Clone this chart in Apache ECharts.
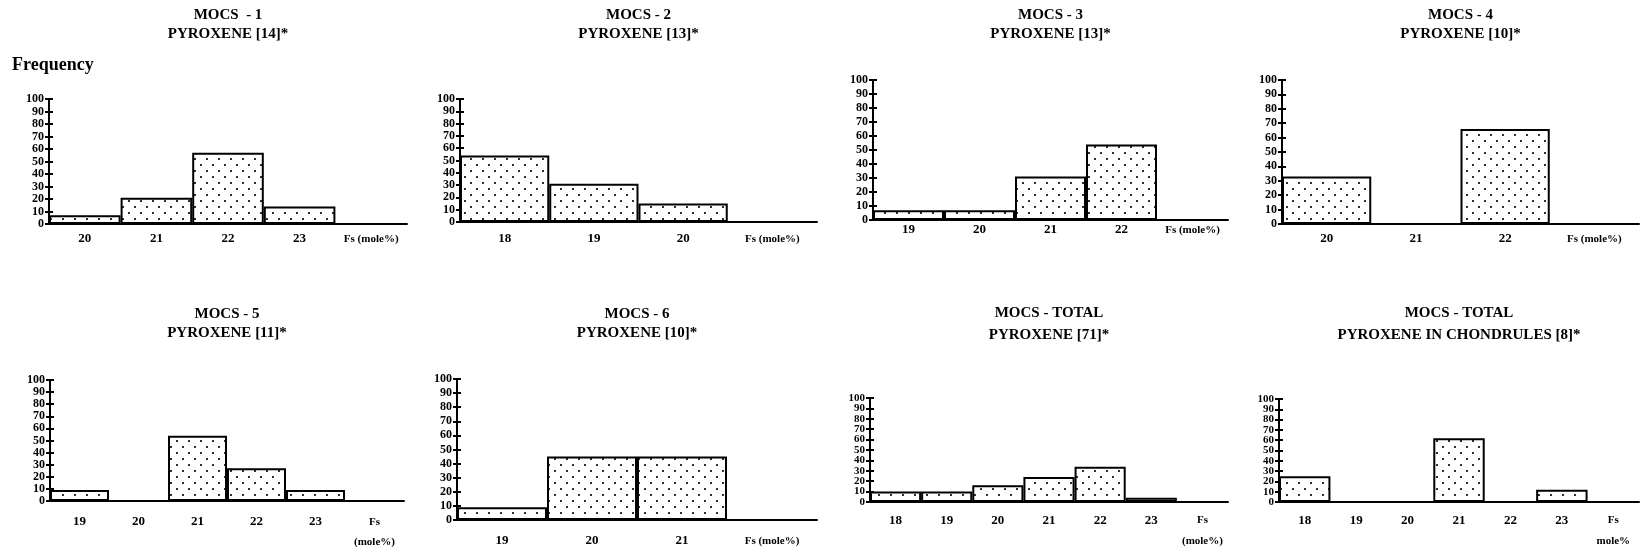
<!DOCTYPE html>
<html>
<head>
<meta charset="utf-8">
<title>MOCS pyroxene Fs histograms</title>
<script src="https://cdn.jsdelivr.net/npm/echarts@6/dist/echarts.min.js"></script>
<style>
  html, body { margin: 0; padding: 0; background: #fff; }
  #chart { width: 1643px; height: 552px; }
</style>
</head>
<body>
<div id="chart"></div>
<script>
/* Fs (mole%) bins and frequency (%) for each sample */
const fs1 = ['20', '21', '22', '23']
const freq1 = [7, 21, 57, 14]

const fs2 = ['18', '19', '20']
const freq2 = [54, 31, 15]

const fs3 = ['19', '20', '21', '22']
const freq3 = [7, 7, 31, 54]

const fs4 = ['20', '21', '22']
const freq4 = [33, 0, 66]

const fs5 = ['19', '20', '21', '22', '23']
const freq5 = [9, 0, 54, 27, 9]

const fs6 = ['19', '20', '21']
const freq6 = [9, 45, 45]

const fsTotal = ['18', '19', '20', '21', '22', '23']
const freqTotal = [10, 10, 16, 24, 34, 4]
const freqChondrules = [25, 0, 0, 62, 0, 12]

/* y axis: 0..100 step 10 */
const yMin = 0
const yMax = 100
const yStep = 10

const FONT = '"Liberation Serif", "DejaVu Serif", serif'

/* panel layout, in page pixels */
const panels = [
  { t: 'MOCS  - 1', s: 'PYROXENE [14]*', cats: fs1, vals: freq1, fsLabel: 'Fs (mole%)',
    x0: 49, x1: 407, yTop: 99, y0: 224, titleTop: 8, gap: 4, lm: 8, lh: 14, ySize: 12 },
  { t: 'MOCS - 2', s: 'PYROXENE [13]*', cats: fs2, vals: freq2, fsLabel: 'Fs (mole%)',
    x0: 460, x1: 817, yTop: 99, y0: 222, titleTop: 8, gap: 4, lm: 10, lh: 14, ySize: 12 },
  { t: 'MOCS - 3', s: 'PYROXENE [13]*', cats: fs3, vals: freq3, fsLabel: 'Fs (mole%)',
    x0: 873, x1: 1228, yTop: 80, y0: 220, titleTop: 8, gap: 4, lm: 3, lh: 14, ySize: 12 },
  { t: 'MOCS - 4', s: 'PYROXENE [10]*', cats: fs4, vals: freq4, fsLabel: 'Fs (mole%)',
    x0: 1282, x1: 1639, yTop: 80, y0: 224, titleTop: 8, gap: 4, lm: 8, lh: 14, ySize: 12 },
  { t: 'MOCS - 5', s: 'PYROXENE [11]*', cats: fs5, vals: freq5, fsLabel: 'Fs\n(mole%)',
    x0: 50, x1: 404, yTop: 380, y0: 501, titleTop: 307, gap: 4, lm: 11, lh: 20, ySize: 12 },
  { t: 'MOCS - 6', s: 'PYROXENE [10]*', cats: fs6, vals: freq6, fsLabel: 'Fs (mole%)',
    x0: 457, x1: 817, yTop: 379, y0: 520, titleTop: 307, gap: 4, lm: 14, lh: 14, ySize: 12 },
  { t: 'MOCS - TOTAL', s: 'PYROXENE [71]*', cats: fsTotal, vals: freqTotal, fsLabel: 'Fs\n(mole%)',
    x0: 870, x1: 1228, yTop: 398, y0: 503, titleTop: 306, gap: 7, lm: 8, lh: 21, ySize: 11 },
  { t: 'MOCS - TOTAL', s: 'PYROXENE IN CHONDRULES [8]*', cats: fsTotal, vals: freqChondrules, fsLabel: 'Fs\nmole%',
    x0: 1279, x1: 1639, yTop: 399, y0: 504, titleTop: 306, gap: 7, lm: 8, lh: 21, ySize: 11 }
]

/* stippled fill like the printed figure */
function makeDots() {
  const c = document.createElement('canvas')
  c.width = 12
  c.height = 12
  const ctx = c.getContext('2d')
  ctx.fillStyle = '#fff'
  ctx.fillRect(0, 0, 12, 12)
  ctx.fillStyle = '#000'
  ctx.beginPath()
  ctx.arc(3, 3, 1.1, 0, Math.PI * 2)
  ctx.arc(9, 9, 1.1, 0, Math.PI * 2)
  ctx.fill()
  return c
}
const dots = { image: makeDots(), repeat: 'repeat' }

const txt = (size, weight) => ({ color: '#000', fontFamily: FONT, fontSize: size, fontWeight: weight || 'bold' })

function buildOption() {
  const option = {
    animation: false,
    backgroundColor: '#fff',
    title: [
      { text: 'Frequency', left: 12, top: 56, padding: 0, textStyle: txt(18, 'bold') }
    ],
    grid: [],
    xAxis: [],
    yAxis: [],
    series: []
  }

  panels.forEach((p, i) => {
    const axisData = p.cats.concat([p.fsLabel])
    const last = axisData.length - 1

    option.title.push({
      text: p.t,
      subtext: p.s,
      left: (p.x0 + p.x1) / 2,
      top: p.titleTop,
      textAlign: 'center',
      padding: 0,
      itemGap: p.gap,
      textStyle: txt(15),
      subtextStyle: txt(15)
    })

    option.grid.push({ left: p.x0, top: p.yTop, width: p.x1 - p.x0, height: p.y0 - p.yTop })

    option.xAxis.push({
      type: 'category',
      gridIndex: i,
      position: 'bottom',
      data: axisData,
      axisLine: { lineStyle: { color: '#000', width: 2 } },
      axisTick: { length: 4, lineStyle: { color: '#000', width: 2 } },
      axisLabel: {
        interval: 0,
        margin: p.lm,
        lineHeight: p.lh,
        ...txt(13),
        formatter(v, idx) {
          if (idx !== last) return v
          return v.split('\n').map((s) => '{fs|' + s + '}').join('\n')
        },
        rich: { fs: { ...txt(11), lineHeight: p.lh } }
      },
      splitLine: { show: false }
    })
    // inward half of the crossing ticks
    option.xAxis.push({
      type: 'category',
      gridIndex: i,
      position: 'bottom',
      data: axisData,
      axisLine: { show: false },
      axisTick: { inside: true, length: 3, lineStyle: { color: '#000', width: 2 } },
      axisLabel: { show: false },
      splitLine: { show: false }
    })

    // labels split over two axes (even / odd tens) so crowded ones are not dropped
    option.yAxis.push({
      type: 'value',
      gridIndex: i,
      position: 'left',
      min: yMin,
      max: yMax,
      interval: yStep,
      axisLine: { show: true, lineStyle: { color: '#000', width: 2 } },
      axisTick: { show: true, length: 4, lineStyle: { color: '#000', width: 2 } },
      axisLabel: {
        margin: 5,
        showMinLabel: true,
        showMaxLabel: true,
        formatter: (v) => (v % 20 === 0 ? String(v) : ''),
        ...txt(p.ySize)
      },
      splitLine: { show: false }
    })
    option.yAxis.push({
      type: 'value',
      gridIndex: i,
      position: 'left',
      min: yMin,
      max: yMax,
      interval: yStep,
      axisLine: { show: false },
      axisTick: { show: true, inside: true, length: 4, lineStyle: { color: '#000', width: 2 } },
      axisLabel: {
        margin: 5,
        showMinLabel: true,
        showMaxLabel: true,
        formatter: (v) => (v % 20 === 10 ? String(v) : ''),
        ...txt(p.ySize)
      },
      splitLine: { show: false }
    })

    option.series.push({
      type: 'bar',
      xAxisIndex: i * 2,
      yAxisIndex: i * 2,
      data: p.vals,
      barCategoryGap: '0%',
      itemStyle: { color: dots, borderColor: '#000', borderWidth: 2 }
    })
  })

  return option
}

const chart = echarts.init(document.getElementById('chart'))
chart.setOption(buildOption())
</script>
</body>
</html>
